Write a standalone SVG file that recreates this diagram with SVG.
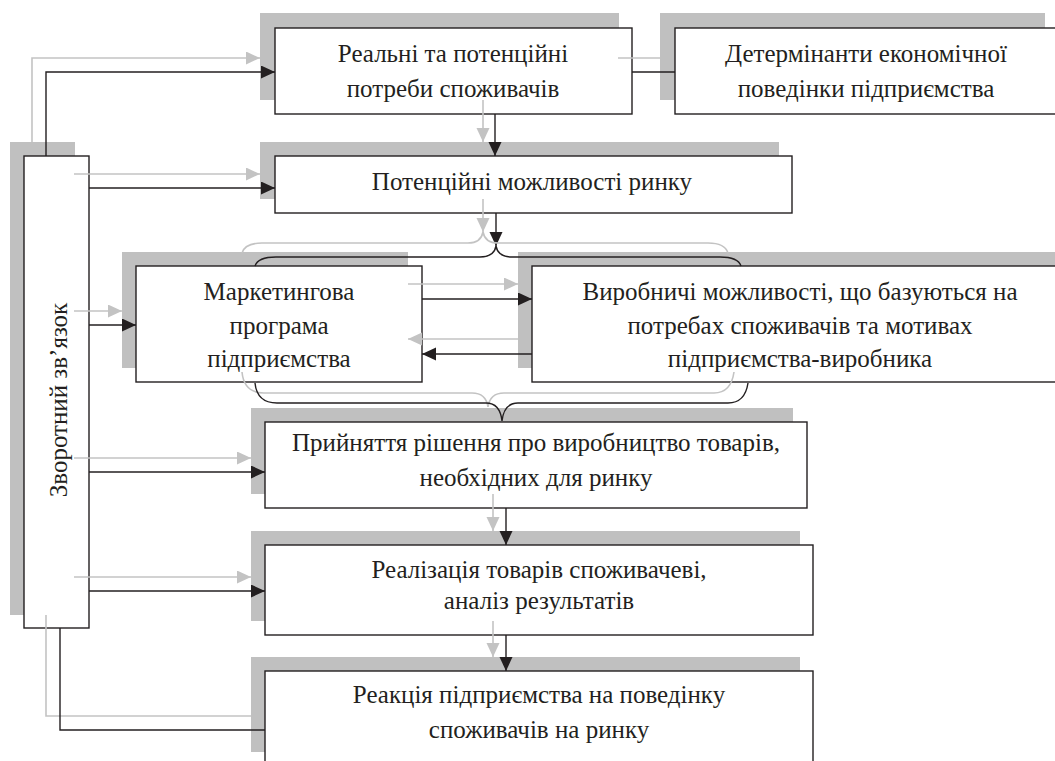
<svg xmlns="http://www.w3.org/2000/svg" width="1055" height="761" viewBox="0 0 1055 761">
<defs>
<marker id="ab" markerUnits="userSpaceOnUse" markerWidth="16" markerHeight="14" refX="14" refY="6.5" orient="auto">
<path d="M0,0 L14,6.5 L0,13 Z" fill="#231f20"/>
</marker>
<marker id="ag" markerUnits="userSpaceOnUse" markerWidth="16" markerHeight="14" refX="14" refY="6.5" orient="auto">
<path d="M0,0 L14,6.5 L0,13 Z" fill="#c3c3c3"/>
</marker>
</defs>
<style>
.sh{fill:#c0c0c0;stroke:none}
.bx{fill:#ffffff;stroke:#231f20;stroke-width:1.4}
.t{font-family:"Liberation Serif","Times New Roman",serif;font-size:25px;fill:#231f20;text-anchor:middle}
.k{fill:none;stroke:#231f20;stroke-width:1.4}
.g{fill:none;stroke:#c3c3c3;stroke-width:1.6}
.kb{fill:none;stroke:#231f20;stroke-width:1.4;marker-end:url(#ab)}
.gb{fill:none;stroke:#c3c3c3;stroke-width:1.6;marker-end:url(#ag)}
</style>
<rect width="1055" height="761" fill="#ffffff"/>
<g id="feedback">
<rect class="sh" x="10" y="142" width="65" height="473"/>
<rect class="bx" x="24" y="156" width="65" height="472"/>
<text class="t" transform="translate(67,400) rotate(-90)">Зворотний зв’язок</text>
</g>

<g id="needs">
<rect class="sh" x="260" y="13" width="359" height="87"/>
<rect class="bx" x="275" y="28" width="357" height="86"/>
<text class="t" x="453" y="62">Реальні та потенційні</text>
<text class="t" x="453" y="97">потреби споживачів</text>
</g>

<g id="determinants">
<rect class="sh" x="660" y="13" width="385" height="87"/>
<rect class="bx" x="675" y="28" width="390" height="86"/>
<text class="t" x="866" y="62">Детермінанти економічної</text>
<text class="t" x="866" y="97">поведінки підприємства</text>
</g>

<g id="market">
<rect class="sh" x="260" y="142" width="519" height="57"/>
<rect class="bx" x="275" y="156" width="517" height="57"/>
<text class="t" x="532" y="190">Потенційні можливості ринку</text>
</g>

<g id="marketing">
<rect class="sh" x="122" y="252" width="286" height="116"/>
<rect class="bx" x="136" y="266" width="286" height="116"/>
<text class="t" x="279" y="300">Маркетингова</text>
<text class="t" x="279" y="334">програма</text>
<text class="t" x="279" y="367">підприємства</text>
</g>

<g id="production">
<rect class="sh" x="518" y="252" width="545" height="116"/>
<rect class="bx" x="532" y="266" width="540" height="116"/>
<text class="t" x="800" y="300">Виробничі можливості, що базуються на</text>
<text class="t" x="800" y="334">потребах споживачів та мотивах</text>
<text class="t" x="800" y="367">підприємства-виробника</text>
</g>

<g id="decision">
<rect class="sh" x="251" y="408" width="542" height="86"/>
<rect class="bx" x="265" y="422" width="542" height="86"/>
<text class="t" x="536" y="451">Прийняття рішення про виробництво товарів,</text>
<text class="t" x="536" y="486">необхідних для ринку</text>
</g>

<g id="sales">
<rect class="sh" x="251" y="531" width="549" height="90"/>
<rect class="bx" x="265" y="545" width="548" height="90"/>
<text class="t" x="539" y="578">Реалізація товарів споживачеві,</text>
<text class="t" x="539" y="609">аналіз результатів</text>
</g>

<g id="reaction">
<rect class="sh" x="251" y="657" width="549" height="95"/>
<rect class="bx" x="265" y="671" width="548" height="100"/>
<text class="t" x="539" y="703">Реакція підприємства на поведінку</text>
<text class="t" x="539" y="738">споживачів на ринку</text>
</g>

<g id="connectors">
<path class="gb" d="M32,142 V58 H260"/>
<path class="kb" d="M46,156 V72 H275"/>
<path class="gb" d="M74,174 H260"/>
<path class="kb" d="M89,188 H275"/>
<path class="gb" d="M74,311 H122"/>
<path class="kb" d="M89,325 H136"/>
<path class="gb" d="M74,458 H251"/>
<path class="kb" d="M89,472 H265"/>
<path class="gb" d="M74,577 H251"/>
<path class="kb" d="M89,591 H265"/>
<path class="g" d="M251,716 H46 V615"/>
<path class="k" d="M265,730 H60 V628"/>

<path class="g" d="M618,58 H660"/>
<path class="k" d="M632,72 H675"/>

<path class="gb" d="M483,100 V142"/>
<path class="kb" d="M495,114 V156"/>
<path class="gb" d="M483,199 V232"/>
<path class="kb" d="M496,213 V246"/>

<path class="g" d="M242,253 Q245,243 262,243 L468,243 Q481,243 483,232 Q485,243 498,243 L708,243 Q725,243 728,253"/>
<path class="k" d="M255,266 Q258,257 276,257 L480,257 Q494,257 496,246 Q498,257 512,257 L720,257 Q738,257 741,266"/>

<path class="gb" d="M408,284 H518"/>
<path class="kb" d="M422,299 H532"/>
<path class="gb" d="M518,339 H408"/>
<path class="kb" d="M532,354 H422"/>

<path class="g" d="M242,372 Q244,393 264,393 L472,393 Q486,393 488,407 Q490,393 504,393 L714,393 Q731,393 734,372"/>
<path class="k" d="M255,383 Q257,403 277,403 L486,403 Q500,403 502,421 Q504,403 518,403 L728,403 Q745,403 748,383"/>

<path class="gb" d="M493,494 V531"/>
<path class="kb" d="M506,508 V545"/>
<path class="gb" d="M493,621 V657"/>
<path class="kb" d="M506,635 V671"/>
</g>
</svg>
